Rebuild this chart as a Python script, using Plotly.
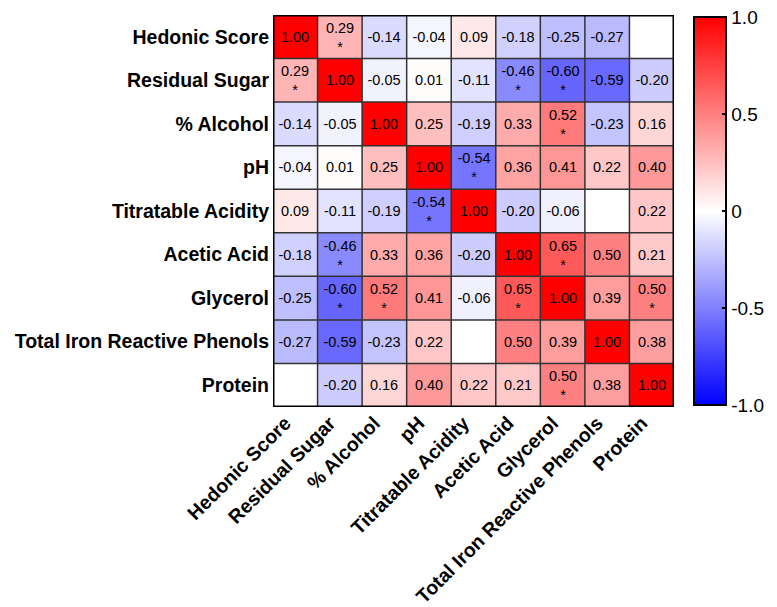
import plotly.graph_objects as go

labels = ["Hedonic Score", "Residual Sugar", "% Alcohol", "pH", "Titratable Acidity",
          "Acetic Acid", "Glycerol", "Total Iron Reactive Phenols", "Protein"]

values = [
    [1.00, 0.29, -0.14, -0.04, 0.09, -0.18, -0.25, -0.27, None],
    [0.29, 1.00, -0.05, 0.01, -0.11, -0.46, -0.60, -0.59, -0.20],
    [-0.14, -0.05, 1.00, 0.25, -0.19, 0.33, 0.52, -0.23, 0.16],
    [-0.04, 0.01, 0.25, 1.00, -0.54, 0.36, 0.41, 0.22, 0.40],
    [0.09, -0.11, -0.19, -0.54, 1.00, -0.20, -0.06, None, 0.22],
    [-0.18, -0.46, 0.33, 0.36, -0.20, 1.00, 0.65, 0.50, 0.21],
    [-0.25, -0.60, 0.52, 0.41, -0.06, 0.65, 1.00, 0.39, 0.50],
    [-0.27, -0.59, -0.23, 0.22, None, 0.50, 0.39, 1.00, 0.38],
    [None, -0.20, 0.16, 0.40, 0.22, 0.21, 0.50, 0.38, 1.00],
]

significant = [
    [0, 1, 0, 0, 0, 0, 0, 0, 0],
    [1, 0, 0, 0, 0, 1, 1, 0, 0],
    [0, 0, 0, 0, 0, 0, 1, 0, 0],
    [0, 0, 0, 0, 1, 0, 0, 0, 0],
    [0, 0, 0, 1, 0, 0, 0, 0, 0],
    [0, 1, 0, 0, 0, 0, 1, 0, 0],
    [0, 1, 1, 0, 0, 1, 0, 0, 1],
    [0, 0, 0, 0, 0, 0, 0, 0, 0],
    [0, 0, 0, 0, 0, 0, 1, 0, 0],
]

colorbar_ticks = [-1.0, -0.5, 0, 0.5, 1.0]
colorbar_ticktext = ["-1.0", "-0.5", "0", "0.5", "1.0"]

n = len(labels)
idx = list(range(n))

text = []
for r in range(n):
    row = []
    for c in range(n):
        v = values[r][c]
        if v is None:
            row.append("")
        else:
            s = f"{v:.2f}"
            if significant[r][c]:
                s += "<br>*"
            row.append(s)
    text.append(row)

fig = go.Figure(go.Heatmap(
    z=values, x=idx, y=idx, text=text, texttemplate="%{text}",
    textfont=dict(family="Liberation Sans, Arial, sans-serif", size=14.5, color="black"),
    colorscale=[[0, "rgb(0,0,255)"], [0.5, "rgb(255,255,255)"], [1, "rgb(255,0,0)"]],
    zmin=-1, zmax=1, hoverongaps=False,
    colorbar=dict(
        x=1.05, xanchor="left", xpad=0, y=0.5, yanchor="middle", ypad=0,
        len=0.99, lenmode="fraction", thickness=32, thicknessmode="pixels",
        outlinewidth=2, outlinecolor="black",
        tickvals=colorbar_ticks, ticktext=colorbar_ticktext,
        ticks="inside", ticklen=5, tickwidth=2, tickcolor="black",
        ticklabeloverflow="allow",
        tickfont=dict(family="Liberation Sans, Arial, sans-serif", size=19, color="black"),
    ),
))

shapes = []
for i in range(1, n):
    b = i - 0.5
    shapes.append(dict(type="line", xref="x", yref="y", x0=b, x1=b, y0=-0.5, y1=n - 0.5,
                       line=dict(color="#333333", width=1.5), layer="above"))
    shapes.append(dict(type="line", xref="x", yref="y", y0=b, y1=b, x0=-0.5, x1=n - 0.5,
                       line=dict(color="#333333", width=1.5), layer="above"))
shapes.append(dict(type="rect", xref="x", yref="y", x0=-0.5, x1=n - 0.5, y0=-0.5, y1=n - 0.5,
                   line=dict(color="black", width=3), layer="above"))

label_font = dict(family="Liberation Sans, Arial, sans-serif", size=19.5, color="black")

fig.update_layout(
    width=777, height=607,
    margin=dict(l=273, r=103, t=15, b=200, autoexpand=False),
    paper_bgcolor="white", plot_bgcolor="white",
    shapes=shapes,
    xaxis=dict(tickvals=idx, ticktext=[f"<b>{l}</b>" for l in labels], tickangle=-45,
               range=[-0.5, n - 0.5], showgrid=False, zeroline=False, ticks="",
               tickfont=label_font, ticklabelstandoff=0, ticklabelshift=-10,
               automargin=False),
    yaxis=dict(tickvals=idx, ticktext=[f"<b>{l}</b>" for l in labels],
               range=[n - 0.5, -0.5], showgrid=False, zeroline=False, ticks="",
               tickfont=label_font, ticklabelstandoff=3, automargin=False),
)

fig.write_html("out.html", config={"displayModeBar": False},
               post_script="document.body.style.margin='0';document.body.style.overflow='hidden';")
